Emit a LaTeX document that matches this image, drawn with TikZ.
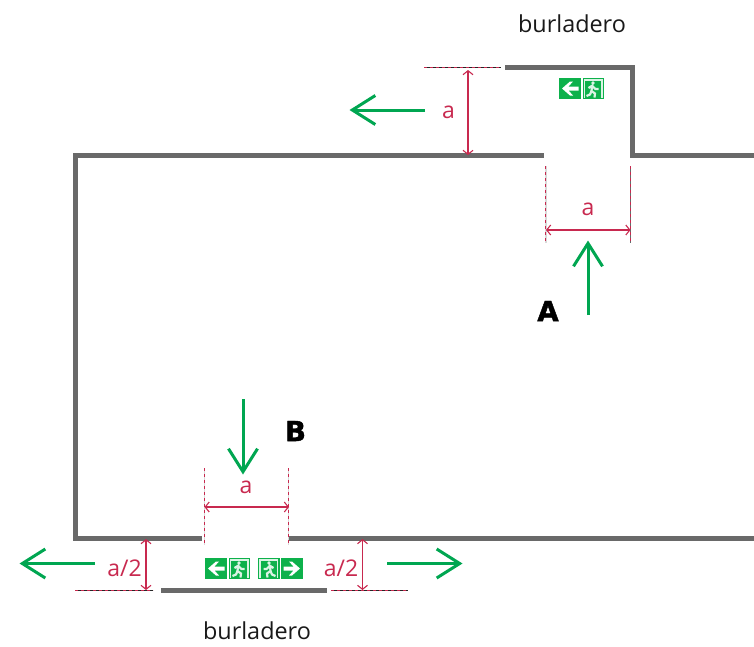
\documentclass[tikz,border=0pt]{standalone}
\usepackage{fontspec}
\setmainfont{Open Sans}
\newfontfamily\heavyfont[BoldFeatures={FakeBold=1.6}]{DejaVu Sans}
\usetikzlibrary{arrows.meta}
\definecolor{wallgray}{HTML}{696969}
\definecolor{dimred}{HTML}{C8294F}
\definecolor{exitgreen}{HTML}{00A651}
\definecolor{signgreen}{HTML}{0DB14B}
\begin{document}
\begin{tikzpicture}[
  x=1pt, y=-1pt,
  wall/.style={draw=wallgray, line width=5pt, miter limit=10},
  flow/.style={draw=exitgreen, line width=3pt, -{Straight Barb[length=23pt, width=29pt, line width=3pt]}},
  dim/.style={draw=dimred, line width=1.4pt, {Straight Barb[length=4pt, width=10pt, line width=1.1pt]}-{Straight Barb[length=4pt, width=10pt, line width=1.1pt]}},
  guide/.style={draw=dimred, line width=1pt, dash pattern=on 2.5pt off 3.5pt},
  guidehoriz/.style={guide, preaction={draw=black!85, solid, line width=0.9pt}},
  guidedark/.style={guide, preaction={draw=wallgray, solid, line width=1.4pt}},
  guidelight/.style={guide, preaction={draw=black!15, solid, line width=1.4pt}},
  dimlabel/.style={text=dimred, font=\fontsize{23}{23}\selectfont, inner sep=0pt},
  caption/.style={text=black!90, font=\fontsize{23.4}{23.4}\selectfont, inner sep=0pt},
  tag/.style={font=\heavyfont\bfseries\fontsize{27.5}{27.5}\selectfont, inner sep=0pt},
  signarrow/.pic={
    \fill[signgreen] (0,0) rectangle (22,21);
    \fill[white] (3,10.5) -- (11,3.5) -- (14,3.5) -- (9.5,8.5) -- (19.5,8.5) -- (19.5,12.5)
      -- (9.5,12.5) -- (14,17.5) -- (11,17.5) -- cycle;
  },
  signman/.pic={
    \fill[signgreen] (0,0) rectangle (21.5,21);
    \draw[white!85!signgreen, line width=1.2pt] (2,19.5) -- (2,2) -- (19.5,2) -- (19.5,19.5);
    \fill[white!85!signgreen] (10.5,5) circle (1.9);
    \draw[white!85!signgreen, line width=2.2pt] (6,10) -- (9.5,7.8) -- (9,13) -- (12.5,15.5) -- (12,19.5);
    \draw[white!85!signgreen, line width=2.2pt] (9.5,7.8) -- (13,11) -- (16,11);
    \draw[white!85!signgreen, line width=2.2pt] (9,13) -- (7.5,16.5) -- (4,18);
  },
]
\useasboundingbox (0,0) rectangle (754,646);

% Walls
\draw[wall] (543.5,155.7) -- (75,155.7) -- (75,538) -- (202,538);
\draw[wall] (289,538) -- (754,538);
\draw[wall] (505,67.5) -- (632.7,67.5) -- (632.7,155.7) -- (754,155.7);
\draw[wall] (161,590.3) -- (327,590.3);

% Guide lines
\draw[guidehoriz] (424,67.7) -- (501,67.7);
\draw[guidelight] (545.8,166) -- (545.8,243);
\draw[guidedark] (630.2,166) -- (630.2,243);
\draw[guidelight] (204.5,468) -- (204.5,545);
\draw[guidelight] (288.7,468) -- (288.7,545);
\draw[guidehoriz] (75,590.3) -- (153,590.3);
\draw[guidehoriz] (331,590.3) -- (408,590.3);

% Dimensions
\draw[dim] (468,70) -- (468,155);
\draw[dim] (546,230) -- (630.5,230);
\draw[dim] (204.5,507) -- (289,507);
\draw[dim] (146,539) -- (146,590);
\draw[dim] (362.5,539) -- (362.5,590);

\node[dimlabel] (topdepth) at (448.5,112) {a};
\node[dimlabel] (topwidth) at (588,209) {a};
\node[dimlabel] (botwidth) at (246,487) {a};
\node[dimlabel] (botleft) at (124.5,568.5) {a/2};
\node[dimlabel] (botright) at (341,568.5) {a/2};

% Green arrows
\draw[flow] (425,110) -- (349.5,110);
\draw[flow] (588,315) -- (588,240.5);
\draw[flow] (243,399) -- (243,474.5);
\draw[flow] (95,563.5) -- (19.5,563.5);
\draw[flow] (387,563.5) -- (462.5,563.5);

% Signs
\pic at (559,78) {signarrow};
\pic at (582.5,78) {signman};
\pic at (205,558) {signarrow};
\pic at (228.5,558) {signman};
\pic[xscale=-1] at (279.5,558) {signman};
\pic[xscale=-1] at (303,558) {signarrow};

% Labels
\node[caption] (burtop) at (572,24) {burladero};
\node[caption] (burbot) at (257,631) {burladero};
\node[tag] (tagA) at (548,311) {A};
\node[tag] (tagB) at (295.5,431) {B};
\end{tikzpicture}
\end{document}
